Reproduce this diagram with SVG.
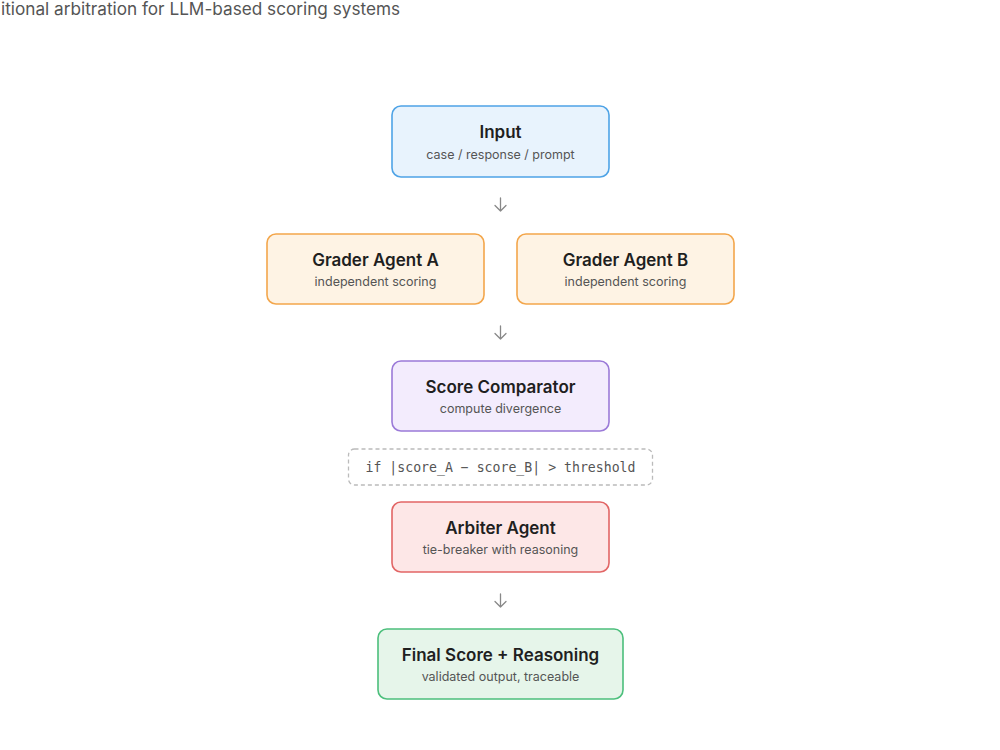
<svg xmlns="http://www.w3.org/2000/svg" width="1000" height="750" viewBox="0 0 1000 750">
<style>
.bg{fill:#ffffff}
.title{font-family:Inter,"Noto Sans","Liberation Sans",sans-serif;font-size:17px;font-weight:600;fill:#1f1f1f;text-anchor:middle}
.sub{font-family:Inter,"Noto Sans","Liberation Sans",sans-serif;font-size:12.5px;fill:#555;text-anchor:middle}
.hdr{font-family:Inter,"Noto Sans","Liberation Sans",sans-serif;font-size:17.2px;fill:#555}
.mono{font-family:"DejaVu Sans Mono","Liberation Mono",monospace;font-size:13.2px;fill:#555;text-anchor:middle}
.box{stroke-width:1.6}
.blue{fill:#e8f3fd;stroke:#4ea3e6}
.orange{fill:#fef3e4;stroke:#f3a64b}
.purple{fill:#f3ecfd;stroke:#9b7ad8}
.red{fill:#fde7e7;stroke:#e26565}
.green{fill:#e6f5ea;stroke:#4cbf7c}
.arrow{fill:none;stroke:#888;stroke-width:1.3;stroke-linecap:round;stroke-linejoin:round}
.cond{fill:#fff;stroke:#bbb;stroke-width:1.3;stroke-dasharray:4 3}
</style>
<rect class="bg" x="0" y="0" width="1000" height="750"/>
<text class="hdr" x="1" y="15">itional arbitration for LLM-based scoring systems</text>

<g id="connectors">
<path class="arrow" d="M500.5 198 V211 M495 205.5 L500.5 211 L506 205.5"/>
<path class="arrow" d="M500.5 326 V339 M495 333.5 L500.5 339 L506 333.5"/>
<path class="arrow" d="M500.5 594 V607 M495 601.5 L500.5 607 L506 601.5"/>
</g>

<g id="input">
<rect class="box blue" x="392" y="106" width="217" height="71" rx="9"/>
<text class="title" x="500.5" y="137.5">Input</text>
<text class="sub" x="500.5" y="159">case / response / prompt</text>
</g>

<g id="grader-a">
<rect class="box orange" x="267" y="234" width="217" height="70" rx="9"/>
<text class="title" x="375.5" y="265.5">Grader Agent A</text>
<text class="sub" x="375.5" y="286">independent scoring</text>
</g>

<g id="grader-b">
<rect class="box orange" x="517" y="234" width="217" height="70" rx="9"/>
<text class="title" x="625.5" y="265.5">Grader Agent B</text>
<text class="sub" x="625.5" y="286">independent scoring</text>
</g>

<g id="comparator">
<rect class="box purple" x="392" y="361" width="217" height="70" rx="9"/>
<text class="title" x="500.5" y="392.5">Score Comparator</text>
<text class="sub" x="500.5" y="413">compute divergence</text>
</g>

<g id="condition">
<rect class="cond" x="348.5" y="449" width="304" height="36" rx="6"/>
<text class="mono" x="500.5" y="471.5">if |score_A − score_B| &gt; threshold</text>
</g>

<g id="arbiter">
<rect class="box red" x="392" y="502" width="217" height="70" rx="9"/>
<text class="title" x="500.5" y="533.5">Arbiter Agent</text>
<text class="sub" x="500.5" y="554">tie-breaker with reasoning</text>
</g>

<g id="final">
<rect class="box green" x="378" y="629" width="245" height="70" rx="9"/>
<text class="title" x="500.5" y="660.5">Final Score + Reasoning</text>
<text class="sub" x="500.5" y="681">validated output, traceable</text>
</g>
</svg>
